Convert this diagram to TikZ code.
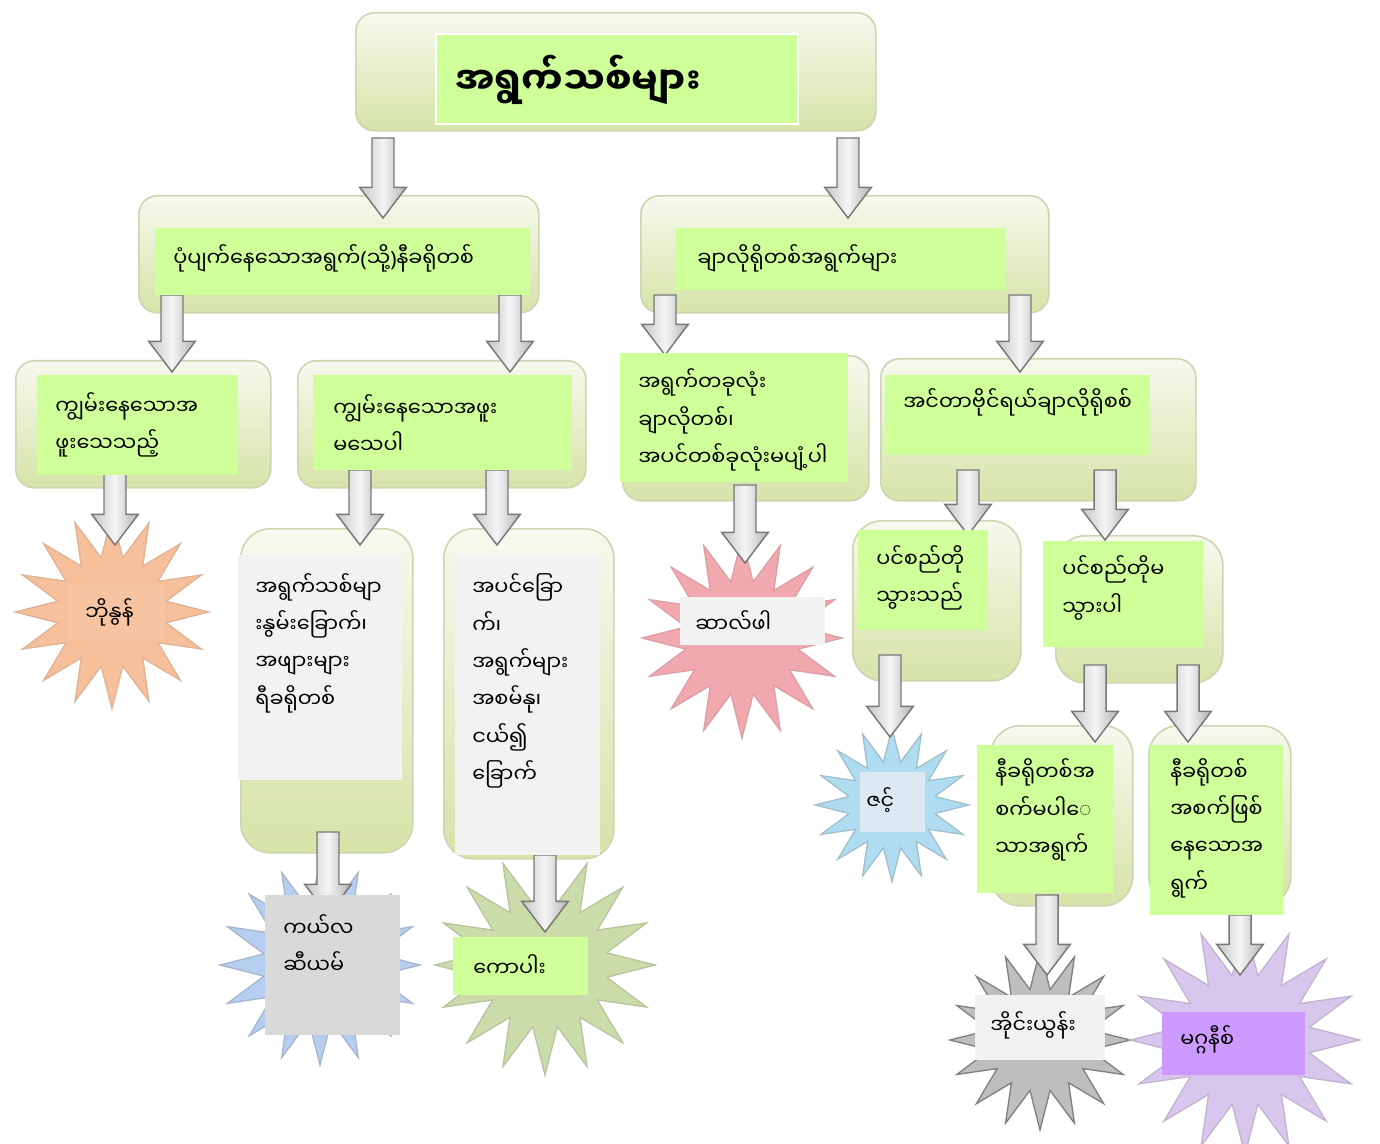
\documentclass[tikz,border=0pt]{standalone}
\usepackage{fontspec}
\usetikzlibrary{shapes.geometric,calc}
\newfontfamily\my[Script=Myanmar]{Noto Sans Myanmar UI}
\newfontfamily\latf{Noto Sans}
\definecolor{lgreen}{RGB}{207,255,153}
\definecolor{palet}{RGB}{247,249,238}
\definecolor{paleb}{RGB}{214,227,168}
\definecolor{paled}{RGB}{205,213,178}
\definecolor{boxgray}{RGB}{242,242,242}
\definecolor{boxgray2}{RGB}{217,217,217}
\definecolor{arrd}{RGB}{120,120,120}
\definecolor{sorange}{RGB}{247,192,155}
\definecolor{sred}{RGB}{242,168,175}
\definecolor{sblue}{RGB}{175,220,240}
\definecolor{sblue2}{RGB}{182,206,240}
\definecolor{sgreen}{RGB}{203,220,170}
\definecolor{sgray}{RGB}{190,190,190}
\definecolor{spurple}{RGB}{216,198,236}
\definecolor{rorange}{RGB}{246,196,160}
\definecolor{rblue}{RGB}{220,232,242}
\definecolor{rpurple}{RGB}{204,153,255}
\newcommand\rbox[6]{\node[#1, minimum width={(#5-#3)*0.75pt}, minimum height={(#6-#4)*0.75pt}] (#2) at (#3,#4) {};}
\begin{document}
\begin{tikzpicture}[x=0.75pt,y=-0.75pt,
  pale/.style={rounded corners=14pt, top color=palet, bottom color=paleb, draw=paled, line width=1.2pt, inner sep=0pt, anchor=north west},
  tallpale/.style={pale, rounded corners=22pt},
  grn/.style={fill=lgreen, inner sep=0pt, anchor=north west},
  gry/.style={fill=boxgray, inner sep=0pt, anchor=north west},
  txt/.style={anchor=west, inner sep=0pt, align=left, font=\my\fontsize{15.6}{28}\selectfont},
  starb/.style={star, star points=16, star point ratio=1.75, inner sep=0pt, line width=1pt},
  blockarr/.style={draw=arrd, line width=1.1pt, left color=gray!45, right color=gray!60, middle color=gray!8,
    to path={([xshift=-8.25pt]\tikztostart) -- ([xshift=8.25pt]\tikztostart)
      -- ([shift={(8.25pt,23pt)}]\tikztotarget) -- ([shift={(17.5pt,23pt)}]\tikztotarget)
      -- (\tikztotarget) -- ([shift={(-17.5pt,23pt)}]\tikztotarget)
      -- ([shift={(-8.25pt,23pt)}]\tikztotarget) -- cycle}}
]
\useasboundingbox[fill=white] (0,0) rectangle (1380,1144);

% pale boxes
\rbox{pale}{p0}{355}{12}{875}{130}
\rbox{pale}{p1}{138}{195}{538}{312}
\rbox{pale}{p2}{640}{195}{1048}{312}
\rbox{pale}{p3}{15}{360}{270}{487}
\rbox{pale}{p4}{297}{360}{585}{487}
\rbox{pale}{p5}{622}{355}{868}{500}
\rbox{pale}{p6}{880}{358}{1195}{500}
\rbox{tallpale}{p7}{240}{528}{412}{852}
\rbox{tallpale}{p8}{443}{528}{613}{858}
\rbox{tallpale}{p9}{852}{520}{1020}{680}
\rbox{tallpale}{p10}{1055}{535}{1222}{682}
\rbox{tallpale}{p11}{990}{725}{1132}{905}
\rbox{tallpale}{p12}{1148}{725}{1290}{905}

% stars
\node[starb, fill=sorange, draw=sorange!80!gray, minimum size=145pt] (s1) at (112,612) {};
\node[starb, fill=sred, draw=sred!80!gray, minimum size=150pt] (s2) at (742,638) {};
\node[starb, fill=sblue, draw=sblue!70!gray, minimum size=115pt] (s3) at (892,805) {};
\node[starb, fill=sgray, draw=gray, minimum size=135pt] (s4) at (1040,1040) {};
\node[starb, fill=spurple, draw=spurple!75!gray, minimum size=172pt] (s5) at (1245,1040) {};
\node[starb, fill=sblue2, draw=sblue2!70!gray, minimum size=150pt] (s6) at (320,965) {};
\node[starb, fill=sgreen, draw=sgreen!75!gray, minimum size=165pt] (s7) at (545,965) {};

% arrow end coordinates
\coordinate (a1s) at (383,138);  \coordinate (a1e) at (383,218);
\coordinate (a2s) at (848,138);  \coordinate (a2e) at (848,218);
\coordinate (a3s) at (172,295);  \coordinate (a3e) at (172,372);
\coordinate (a4s) at (510,295);  \coordinate (a4e) at (510,372);
\coordinate (a5s) at (665,295);  \coordinate (a5e) at (665,355);
\coordinate (a6s) at (1020,295); \coordinate (a6e) at (1020,372);
\coordinate (a7s) at (115,470);  \coordinate (a7e) at (115,545);
\coordinate (a8s) at (360,470);  \coordinate (a8e) at (360,545);
\coordinate (a9s) at (497,470);  \coordinate (a9e) at (497,545);
\coordinate (a10s) at (745,485); \coordinate (a10e) at (745,563);
\coordinate (a11s) at (968,470); \coordinate (a11e) at (968,535);
\coordinate (a12s) at (1105,470);\coordinate (a12e) at (1105,540);
\coordinate (a13s) at (890,655); \coordinate (a13e) at (890,737);
\coordinate (a14s) at (1095,665);\coordinate (a14e) at (1095,742);
\coordinate (a15s) at (1188,665);\coordinate (a15e) at (1188,742);
\coordinate (a16s) at (1047,895);\coordinate (a16e) at (1047,975);
\coordinate (a17s) at (1240,915);\coordinate (a17e) at (1240,975);
\coordinate (a18s) at (328,832); \coordinate (a18e) at (328,915);
\coordinate (a19s) at (545,855); \coordinate (a19e) at (545,932);
\foreach \i in {1,...,19} {\draw[blockarr] (a\i s) to (a\i e);}

% coloured rects
\rbox{grn, draw=white, line width=1.2pt}{r0}{435}{33}{797}{123}
\rbox{grn}{r1}{155}{228}{530}{295}
\rbox{grn}{r2}{676}{228}{1005}{290}
\rbox{grn}{r3}{37}{375}{238}{475}
\rbox{grn}{r4}{313}{375}{572}{470}
\rbox{grn}{r5}{620}{353}{848}{482}
\rbox{grn}{r6}{885}{375}{1150}{455}
\rbox{gry}{r7}{238}{555}{402}{780}
\rbox{gry}{r8}{455}{555}{600}{855}
\rbox{grn}{r9}{858}{530}{988}{630}
\rbox{grn}{r10}{1043}{541}{1203}{647}
\rbox{grn}{r11}{977}{745}{1113}{893}
\rbox{grn}{r12}{1150}{745}{1283}{915}
\rbox{gry, fill=rorange}{r13}{68}{585}{165}{640}
\rbox{gry}{r14}{680}{597}{825}{645}
\rbox{gry, fill=rblue}{r15}{860}{772}{925}{832}
\rbox{gry}{r16}{975}{995}{1105}{1060}
\rbox{gry, fill=rpurple}{r17}{1162}{1012}{1305}{1075}
\rbox{gry, fill=boxgray2}{r18}{265}{895}{400}{1035}
\rbox{grn}{r19}{453}{937}{588}{995}

% texts
\node[txt] (t0) at (455,80) {\bfseries\fontsize{28}{30}\selectfont အရွက်သစ်များ};
\node[txt] (t1) at (173,258) {ပုံပျက်နေသောအရွက်{\latf(}သို့{\latf)}နီခရိုတစ်};
\node[txt] (t2) at (697,258) {ချာလိုရိုတစ်အရွက်များ};
\node[txt] (t3) at (55,425) {ကျွမ်းနေသောအ\\ဖူးသေသည့်};
\node[txt] (t4) at (333,424) {ကျွမ်းနေသောအဖူး\\မသေပါ};
\node[txt] (t5) at (638,420) {အရွက်တခုလုံး\\ချာလိုတစ်၊\\အပင်တစ်ခုလုံးမပျံ့ပါ};
\node[txt] (t6) at (903,402) {အင်တာဗိုင်ရယ်ချာလိုရိုစစ်};
\node[txt] (t7) at (85,612) {ဘိုနွန်};
\node[txt] (t8) at (255,643) {အရွက်သစ်မျာ\\\kern-0.26em\symbol{"00A0}းနွမ်းခြောက်၊\\အဖျားများ\\ရီခရိုတစ်};
\node[txt] (t9) at (472,681) {အပင်ခြော\\က်၊\\အရွက်များ\\အစမ်နု၊\\ငယ်၍\\ခြောက်};
\node[txt] (t10) at (695,622) {ဆာလ်ဖါ};
\node[txt] (t11) at (876,578) {ပင်စည်တို\\သွားသည်};
\node[txt] (t12) at (1062,588) {ပင်စည်တိုမ\\သွားပါ};
\node[txt] (t13) at (866,800) {ဇင့်};
\node[txt] (t14) at (995,810) {နီခရိုတစ်အ\\စက်မပါေ\\သာအရွက်};
\node[txt] (t15) at (1170,828) {နီခရိုတစ်\\အစက်ဖြစ်\\နေသောအ\\ရွက်};
\node[txt] (t16) at (990,1025) {အိုင်းယွန်း};
\node[txt] (t17) at (1180,1040) {မဂ္ဂနီစ်};
\node[txt] (t18) at (283,944) {ကယ်လ\\ဆီယမ်};
\node[txt] (t19) at (473,966) {ကောပါး};
\end{tikzpicture}
\end{document}
